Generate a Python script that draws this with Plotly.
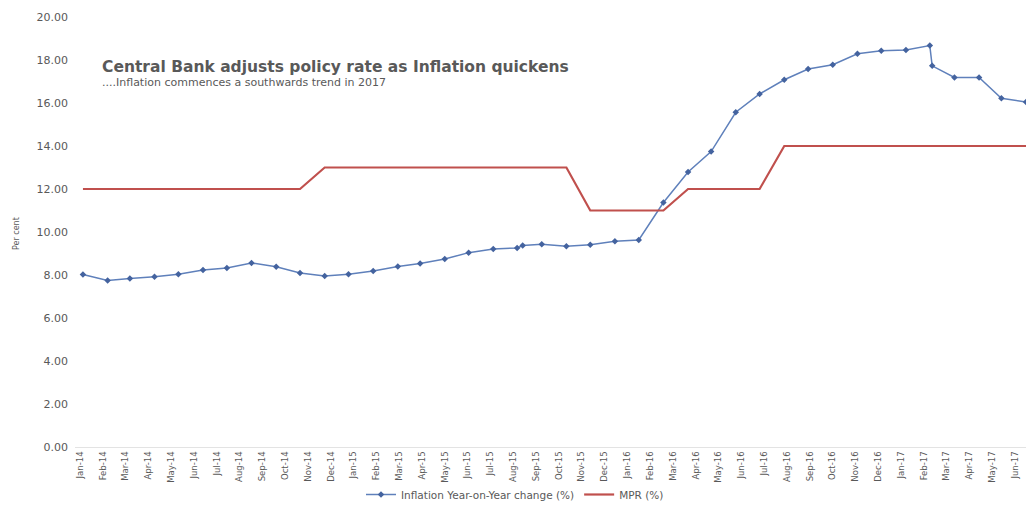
import plotly.graph_objects as go

# ---- data ----
month_labels = [
    "Jan-14", "Feb-14", "Mar-14", "Apr-14", "May-14", "Jun-14", "Jul-14", "Aug-14", "Sep-14", "Oct-14", "Nov-14", "Dec-14",
    "Jan-15", "Feb-15", "Mar-15", "Apr-15", "May-15", "Jun-15", "Jul-15", "Aug-15", "Sep-15", "Oct-15", "Nov-15", "Dec-15",
    "Jan-16", "Feb-16", "Mar-16", "Apr-16", "May-16", "Jun-16", "Jul-16", "Aug-16", "Sep-16", "Oct-16", "Nov-16", "Dec-16",
    "Jan-17", "Feb-17", "Mar-17", "Apr-17", "May-17", "Jun-17",
]

# date column as it was plotted in the source chart (one per observation)
plot_dates = [
    "2014-01-01", "2014-02-01", "2014-03-01", "2014-04-01", "2014-05-01", "2014-06-01", "2014-07-01",
    "2014-08-01", "2014-09-01", "2014-10-01", "2014-11-01", "2014-12-01",
    "2015-01-01", "2015-02-01", "2015-03-01", "2015-04-01", "2015-05-01", "2015-06-01", "2015-07-01",
    "2015-07-08", "2015-08-01", "2015-09-01", "2015-10-01", "2015-11-01",
    "2015-12-01", "2016-01-01", "2016-02-01", "2016-03-01", "2016-04-01", "2016-05-01", "2016-06-01",
    "2016-07-01", "2016-08-01", "2016-09-01", "2016-10-01", "2016-11-01",
    "2016-12-01", "2016-12-04", "2017-01-01", "2017-02-01", "2017-03-01", "2017-04-01",
]

inflation = [
    8.02, 7.75, 7.84, 7.92, 8.04, 8.23, 8.33, 8.56, 8.38, 8.09, 7.95, 8.04,
    8.19, 8.39, 8.53, 8.74, 9.04, 9.21, 9.26, 9.37, 9.43, 9.34, 9.41, 9.57,
    9.63, 11.37, 12.79, 13.74, 15.57, 16.42, 17.08, 17.58, 17.78, 18.29, 18.43, 18.47,
    18.67, 17.73, 17.19, 17.19, 16.22, 16.05,
]

mpr = [
    12, 12, 12, 12, 12, 12, 12, 12, 12, 12, 13, 13,
    13, 13, 13, 13, 13, 13, 13, 13, 13, 13, 11, 11,
    11, 11, 12, 12, 12, 12, 14, 14, 14, 14, 14, 14,
    14, 14, 14, 14, 14, 14,
]

title_text = "Central Bank adjusts policy rate as Inflation quickens"
subtitle_text = "....Inflation commences a southwards trend in 2017"

# ---- figure ----
TXT = "#595959"
FONT = "DejaVu Sans, Verdana, sans-serif"
fig = go.Figure()

# invisible trace that carries the month label axis
fig.add_trace(go.Scatter(x=list(range(len(month_labels))), y=[None] * len(month_labels),
                         mode="lines", showlegend=False, hoverinfo="skip"))

fig.add_trace(go.Scatter(
    x=plot_dates, y=inflation, xaxis="x2", yaxis="y",
    name="Inflation Year-on-Year change (%)", mode="lines+markers",
    line=dict(color="#5F80BB", width=1.5),
    marker=dict(symbol="diamond", size=5, color="#44639F"),
))
fig.add_trace(go.Scatter(
    x=plot_dates, y=mpr, xaxis="x2", yaxis="y",
    name="MPR (%)", mode="lines",
    line=dict(color="#C0504D", width=2.2),
))

L, R, T, B = 75, 0, 17, 60
W, H = 1026, 509
pw, ph = W - L - R, H - T - B

fig.update_layout(
    width=W, height=H,
    margin=dict(l=L, r=R, t=T, b=B),
    plot_bgcolor="white", paper_bgcolor="white",
    font=dict(family=FONT, color=TXT),
    xaxis=dict(
        type="linear", range=[-0.22, 41.48],
        tickvals=list(range(len(month_labels))), ticktext=month_labels,
        tickangle=-90, tickfont=dict(size=8.5, color=TXT),
        showgrid=False, zeroline=False, showline=True, linecolor="#E3E3E3", linewidth=1,
        ticks="",
    ),
    xaxis2=dict(
        type="date", overlaying="x", anchor="y", visible=False,
        range=["2013-12-22", "2017-04-01"],
    ),
    yaxis=dict(
        range=[0, 20], dtick=2, tickformat=".2f",
        tickfont=dict(size=11, color=TXT),
        showgrid=False, zeroline=False, showline=False, ticks="",
        ticklabelstandoff=6,
    ),
    legend=dict(
        orientation="h", x=(515 - L) / pw, y=(H - B - 497) / ph,
        xanchor="center", yanchor="middle",
        font=dict(size=10.5, color=TXT), bgcolor="rgba(0,0,0,0)",
        itemwidth=30,
    ),
    annotations=[
        dict(text=title_text, xref="paper", yref="paper",
             x=(100 - L) / pw, y=(H - B - 67) / ph, xanchor="left", yanchor="middle",
             showarrow=False, font=dict(size=15.5, color=TXT, family=FONT, weight="bold")),
        dict(text=subtitle_text, xref="paper", yref="paper",
             x=(100 - L) / pw, y=(H - B - 83) / ph, xanchor="left", yanchor="middle",
             showarrow=False, font=dict(size=11, color=TXT)),
        dict(text="Per cent", xref="paper", yref="paper",
             x=(17 - L) / pw, y=(H - B - 235) / ph, xanchor="center", yanchor="middle",
             textangle=-90, showarrow=False, font=dict(size=8, color=TXT)),
    ],
)

fig.write_html("out.html", config={"displayModeBar": False},
               post_script="document.body.style.margin='0';")
